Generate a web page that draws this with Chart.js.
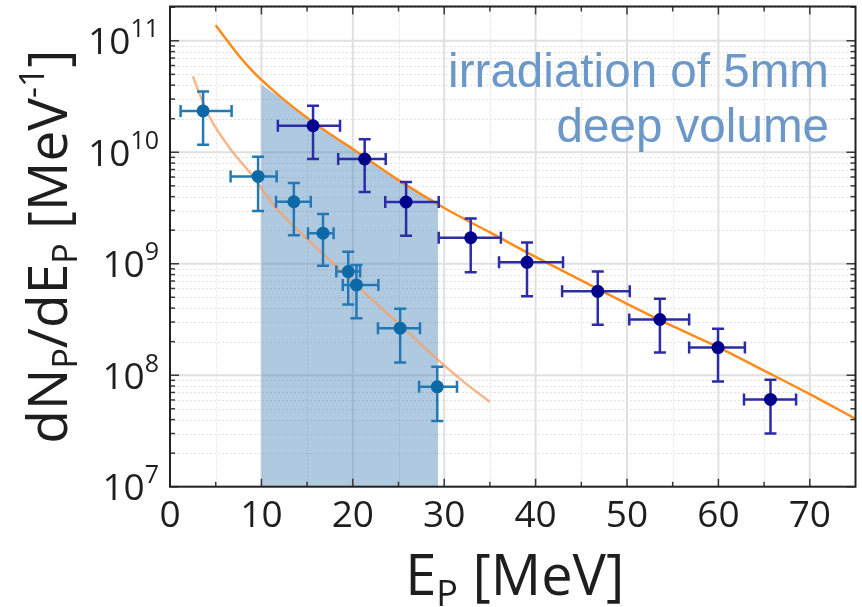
<!DOCTYPE html>
<html>
<head>
<meta charset="utf-8">
<script src="https://cdn.jsdelivr.net/npm/chart.js@4.4.0/dist/chart.umd.min.js"></script>
<style>
  html, body { margin: 0; padding: 0; background: #fff; }
  canvas { display: block; }
</style>
</head>
<body>
<canvas id="chart" width="862" height="607"></canvas>
<script>
// ── Data ───────────────────────────────────────────────────
// deep volume measurement (dark blue)
const energyDeep    = [15.65, 21.3, 25.83, 32.9, 39.06, 46.8, 53.6, 59.96, 65.7];
const energyDeepLo  = [11.8, 18.4, 23.55, 29.4, 36.0, 42.9, 50.25, 56.8, 62.8];
const energyDeepHi  = [18.6, 23.6, 29.4, 36.2, 43.0, 50.3, 56.8, 62.9, 68.5];
const fluxDeep      = [1.73e10, 8.7e9, 3.58e9, 1.71e9, 1.03e9, 5.66e8, 3.16e8, 1.77e8, 6.07e7];
const fluxDeepHi    = [2.61e10, 1.31e10, 5.4e9, 2.54e9, 1.55e9, 8.5e8, 4.84e8, 2.61e8, 9.1e7];
const fluxDeepLo    = [8.7e9, 4.4e9, 1.78e9, 8.4e8, 5.1e8, 2.84e8, 1.6e8, 8.8e7, 3.0e7];

// surface measurement (lighter blue)
const energySurf    = [3.62, 9.64, 13.55, 16.74, 19.5, 20.4, 25.18, 29.24];
const energySurfLo  = [1.16, 6.63, 11.6, 15.1, 18.2, 18.9, 22.75, 27.25];
const energySurfHi  = [6.74, 11.67, 15.4, 17.9, 20.8, 22.8, 27.35, 31.4];
const fluxSurf      = [2.35e10, 6.07e9, 3.6e9, 1.88e9, 8.5e8, 6.46e8, 2.64e8, 7.87e7];
const fluxSurfHi    = [3.5e10, 9.1e9, 5.3e9, 2.8e9, 1.28e9, 9.75e8, 3.94e8, 1.19e8];
const fluxSurfLo    = [1.17e10, 2.97e9, 1.8e9, 9.6e8, 4.3e8, 3.25e8, 1.3e8, 3.88e7];

// fitted spectra
const fitDeepE      = [5, 6, 7.5, 9, 10, 11, 12.5, 15, 17.5, 20, 25, 30, 35, 40, 45, 50, 55, 60, 65, 70, 75];
const fitDeepFlux   = [1.38e11, 1.07e11, 7.41e10, 5.37e10, 4.47e10, 3.76e10, 2.95e10, 2.04e10, 1.46e10,
                       1.07e10, 5.62e9, 3.16e9, 1.91e9, 1.15e9, 7.08e8, 4.37e8, 2.75e8, 1.78e8,
                       1.1e8, 6.76e7, 4.07e7];
const fitSurfE      = [2.5, 3.5, 4.5, 6.5, 9, 11.5, 14, 17, 20, 23, 26, 29, 32, 35];
const fitSurfFlux   = [4.79e10, 2.95e10, 1.95e10, 1.1e10, 6.17e9, 3.24e9, 2.0e9, 1.17e9, 6.9e8,
                       4.07e8, 2.45e8, 1.45e8, 8.9e7, 5.75e7];

// shaded integration window
const bandE         = [10, 11, 12.5, 15, 17.5, 20, 25, 29.35];
const bandFlux      = [4.03e10, 3.55e10, 2.9e10, 2.04e10, 1.46e10, 1.07e10, 5.62e9, 3.55e9];

// axes
const xMajorTicks   = [0, 10, 20, 30, 40, 50, 60, 70];
const xMinorTicks   = [5, 15, 25, 35, 45, 55, 65];
const yMajorTicks   = [1e7, 1e8, 1e9, 1e10, 1e11];
const yTickExps     = ['7', '8', '9', '10', '11'];
const yMinorMults   = [2, 3, 4, 5, 6, 7, 8, 9];

const NOTE_LINES    = ['irradiation of 5mm', 'deep volume'];

const pts = (xs, ys) => xs.map((v, i) => ({ x: v, y: ys[i] }));

// ── Grid, frame, ticks and text ───────────────────────────
const FONT = '"Open Sans", "DejaVu Sans", sans-serif';

function drawRuns(ctx, x0, y0, runs) {
  // runs: [text, size, baselineShift]
  let x = x0;
  runs.forEach(([t, size, shift]) => {
    ctx.font = `${size}px ${FONT}`;
    ctx.fillText(t, x, y0 + shift);
    x += ctx.measureText(t).width;
  });
}
function runsWidth(ctx, runs) {
  return runs.reduce((w, [t, size]) => {
    ctx.font = `${size}px ${FONT}`;
    return w + ctx.measureText(t).width;
  }, 0);
}

const axesDecor = {
  id: 'axesDecor',
  beforeDatasetsDraw(chart) {
    const { ctx, chartArea: a, scales: { x, y } } = chart;
    ctx.save();
    ctx.beginPath();
    ctx.rect(a.left, a.top, a.right - a.left, a.bottom - a.top);
    ctx.clip();

    // minor grid (dotted)
    ctx.strokeStyle = '#e3e3e3';
    ctx.lineWidth = 1;
    ctx.setLineDash([2, 2]);
    xMinorTicks.forEach(v => {
      const px = Math.round(x.getPixelForValue(v)) + 0.5;
      ctx.beginPath(); ctx.moveTo(px, a.top); ctx.lineTo(px, a.bottom); ctx.stroke();
    });
    yMajorTicks.forEach(d => yMinorMults.forEach(m => {
      const v = d * m;
      if (v > y.max) return;
      const py = Math.round(y.getPixelForValue(v)) + 0.5;
      ctx.beginPath(); ctx.moveTo(a.left, py); ctx.lineTo(a.right, py); ctx.stroke();
    }));

    // major grid (solid)
    ctx.setLineDash([]);
    ctx.strokeStyle = '#e0e0e0';
    ctx.lineWidth = 2;
    xMajorTicks.forEach(v => {
      const px = x.getPixelForValue(v);
      ctx.beginPath(); ctx.moveTo(px, a.top); ctx.lineTo(px, a.bottom); ctx.stroke();
    });
    yMajorTicks.forEach(v => {
      const py = y.getPixelForValue(v);
      ctx.beginPath(); ctx.moveTo(a.left, py); ctx.lineTo(a.right, py); ctx.stroke();
    });
    ctx.restore();
  },

  afterDatasetsDraw(chart) {
    const { ctx, chartArea: a, scales: { x, y } } = chart;
    ctx.save();
    ctx.strokeStyle = '#3a3a3a';
    ctx.lineWidth = 1.5;
    const tick = (x1, y1, x2, y2) => { ctx.beginPath(); ctx.moveTo(x1, y1); ctx.lineTo(x2, y2); ctx.stroke(); };

    xMajorTicks.forEach(v => {
      const px = x.getPixelForValue(v);
      tick(px, a.bottom, px, a.bottom - 8);
      tick(px, a.top, px, a.top + 8);
    });
    xMinorTicks.forEach(v => {
      const px = x.getPixelForValue(v);
      tick(px, a.bottom, px, a.bottom - 5);
      tick(px, a.top, px, a.top + 5);
    });
    yMajorTicks.forEach(d => {
      const py = y.getPixelForValue(d);
      tick(a.left, py, a.left + 9, py);
      tick(a.right, py, a.right - 9, py);
      yMinorMults.forEach(m => {
        if (d * m > y.max) return;
        const pm = y.getPixelForValue(d * m);
        tick(a.left, pm, a.left + 5, pm);
        tick(a.right, pm, a.right - 5, pm);
      });
    });

    ctx.strokeStyle = '#222';
    ctx.lineWidth = 2;
    ctx.strokeRect(a.left, a.top, a.right - a.left, a.bottom - a.top);
    ctx.restore();
  },

  afterDraw(chart) {
    const { ctx, chartArea: a, scales: { x, y } } = chart;
    ctx.save();
    ctx.fillStyle = '#1e1e1e';
    ctx.textBaseline = 'alphabetic';

    // x tick labels
    ctx.textAlign = 'center';
    ctx.font = `37px ${FONT}`;
    xMajorTicks.forEach(v => ctx.fillText(String(v), x.getPixelForValue(v), a.bottom + 40));

    // y tick labels: 10^n
    ctx.textAlign = 'left';
    yMajorTicks.forEach((v, i) => {
      const py = y.getPixelForValue(v);
      const runs = [['10', 37, 0], [yTickExps[i], 25, -17]];
      const w = runsWidth(ctx, runs);
      drawRuns(ctx, 159 - w, py + 13.5, runs);
    });

    // x title: E_P [MeV]
    const xt = [['E', 56, 0], ['P', 36, 11], [' [MeV]', 56, 0]];
    const xw = runsWidth(ctx, xt);
    drawRuns(ctx, (a.left + a.right) / 2 - xw / 2 + 2, 595, xt);

    // y title: dN_P/dE_P [MeV^-1]
    const yt = [['dN', 55, 0], ['P', 34, 10], ['/dE', 55, 0], ['P', 34, 10],
                [' [MeV', 55, 0], ['-1', 34, -23], [']', 55, 0]];
    const yw = runsWidth(ctx, yt);
    ctx.translate(67, (a.top + a.bottom) / 2);
    ctx.rotate(-Math.PI / 2);
    drawRuns(ctx, -yw / 2, 0, yt);
    ctx.restore();

    // annotation
    ctx.save();
    ctx.fillStyle = '#6b98c8';
    ctx.textAlign = 'right';
    ctx.font = '47.6px "Liberation Sans", Arial, sans-serif';
    ctx.fillText(NOTE_LINES[0], 829, 87);
    ctx.fillText(NOTE_LINES[1], 829, 142);
    ctx.restore();
  }
};

// ── Error bars drawn from the dataset's own arrays ────────
const errorBars = {
  id: 'errorBars',
  beforeDatasetDraw(chart, args) {
    const ds = chart.data.datasets[args.index];
    if (!ds.err) return;
    const { ctx, scales: { x, y } } = chart;
    const e = ds.err;
    ctx.save();
    ctx.strokeStyle = e.color;
    ctx.lineWidth = 2.5;
    const cap = 6;
    ds.data.forEach((p, i) => {
      const px = x.getPixelForValue(p.x), py = y.getPixelForValue(p.y);
      const xl = x.getPixelForValue(e.xLo[i]), xh = x.getPixelForValue(e.xHi[i]);
      const yl = y.getPixelForValue(e.yLo[i]), yh = y.getPixelForValue(e.yHi[i]);
      ctx.beginPath();
      ctx.moveTo(xl, py); ctx.lineTo(xh, py);
      ctx.moveTo(xl, py - cap); ctx.lineTo(xl, py + cap);
      ctx.moveTo(xh, py - cap); ctx.lineTo(xh, py + cap);
      ctx.moveTo(px, yl); ctx.lineTo(px, yh);
      ctx.moveTo(px - cap, yl); ctx.lineTo(px + cap, yl);
      ctx.moveTo(px - cap, yh); ctx.lineTo(px + cap, yh);
      ctx.stroke();
    });
    ctx.restore();
  }
};

new Chart(document.getElementById('chart'), {
  type: 'scatter',
  data: {
    datasets: [
      {
        label: 'window',
        data: pts(bandE, bandFlux),
        showLine: true,
        borderWidth: 0,
        pointRadius: 0,
        fill: 'start',
        backgroundColor: 'rgba(70,130,185,0.43)',
        cubicInterpolationMode: 'monotone',
        order: 10,
      },
      {
        label: 'fit deep',
        data: pts(fitDeepE, fitDeepFlux),
        showLine: true,
        borderColor: '#ff8c1a',
        borderWidth: 2.5,
        pointRadius: 0,
        fill: false,
        cubicInterpolationMode: 'monotone',
        order: 5,
      },
      {
        label: 'fit surface',
        data: pts(fitSurfE, fitSurfFlux),
        showLine: true,
        borderColor: 'rgba(246,160,100,0.75)',
        borderWidth: 2.5,
        pointRadius: 0,
        fill: false,
        cubicInterpolationMode: 'monotone',
        order: 5,
      },
      {
        label: 'surface',
        data: pts(energySurf, fluxSurf),
        showLine: false,
        pointRadius: 6.5,
        pointBorderWidth: 0,
        pointBackgroundColor: '#0b69a8',
        err: { xLo: energySurfLo, xHi: energySurfHi, yLo: fluxSurfLo, yHi: fluxSurfHi, color: '#2479b4' },
        order: 2,
      },
      {
        label: 'deep',
        data: pts(energyDeep, fluxDeep),
        showLine: false,
        pointRadius: 6.5,
        pointBorderWidth: 0,
        pointBackgroundColor: '#00008c',
        err: { xLo: energyDeepLo, xHi: energyDeepHi, yLo: fluxDeepLo, yHi: fluxDeepHi, color: '#2c2ca6' },
        order: 1,
      },
    ],
  },
  options: {
    responsive: false,
    animation: false,
    devicePixelRatio: 1,
    layout: { padding: { top: 4.3, right: 2.5, left: 170, bottom: 120.3 } },
    plugins: { legend: { display: false }, tooltip: { enabled: false } },
    scales: {
      x: {
        type: 'linear', min: 0, max: 75,
        grid: { display: false }, border: { display: false }, ticks: { display: false },
        afterFit(s) { s.height = 0; },
      },
      y: {
        type: 'logarithmic', min: 1e7, max: 2.03e11,
        grid: { display: false }, border: { display: false }, ticks: { display: false },
        afterFit(s) { s.width = 0; },
      },
    },
  },
  plugins: [axesDecor, errorBars],
});
</script>
</body>
</html>
